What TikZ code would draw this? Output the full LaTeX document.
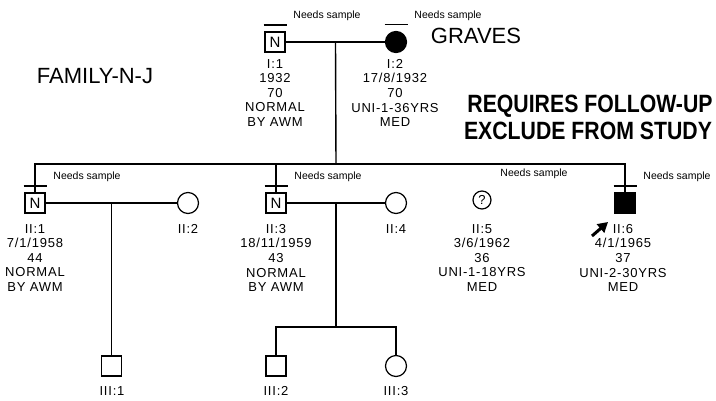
\documentclass[tikz,border=0pt]{standalone}
\usepackage{fontspec}
\setmainfont{Liberation Sans}
\newfontfamily\narrowsans{Liberation Sans}[FakeStretch=0.85]
\usetikzlibrary{arrows.meta,calc,positioning}

\begin{document}
\begin{tikzpicture}[
      x=1pt, y=-1pt, line width=1.4pt,
      male/.style={draw, rectangle, minimum size=20pt, inner sep=0pt,
                   line width=1.2pt, font=\fontsize{15}{15}\selectfont},
      female/.style={draw, circle, minimum size=21pt, inner sep=0pt, line width=1.2pt},
      affected/.style={fill=black},
      info/.style={anchor=north, align=center, inner sep=0pt,
                   font=\fontsize{13}{14.6}\selectfont\addfontfeature{LetterSpace=6}},
      sample/.style={inner sep=0pt, font=\fontsize{10.5}{10.5}\selectfont},
      bigtext/.style={inner sep=0pt, font=\fontsize{22}{22}\selectfont},
      flag/.style={inner sep=0pt, text depth=0pt, font=\narrowsans\bfseries\fontsize{25}{25}\selectfont},
      bar/.style={line width=1.2pt}
    ]
      \useasboundingbox (0,0) rectangle (716,400);

      % generation I
      \node[male] (i1) at (275,42) {N};
      \node[female, affected] (i2) at (396,42) {};
      \node[info] (i1l) at (275,58.5) {I:1\\1932\\70\\NORMAL\\BY AWM};
      \node[info] (i2l) at (395,58.5) {I:2\\17/8/1932\\70\\UNI-1-36YRS\\MED};

      % generation II
      \node[male] (ii1) at (35,203) {N};
      \node[female] (ii2) at (188,203) {};
      \node[male] (ii3) at (276,203) {N};
      \node[female] (ii4) at (396,203) {};
      \node[female, minimum size=18pt, font=\fontsize{13}{13}\selectfont] (ii5) at (482,200) {?};
      \node[male, affected] (ii6) at (625,203) {};
      \node[info] (ii1l) at (35,223.5) {II:1\\7/1/1958\\44\\NORMAL\\BY AWM};
      \node[info] (ii2l) at (188,223.5) {II:2};
      \node[info] (ii3l) at (276,223.5) {II:3\\18/11/1959\\43\\NORMAL\\BY AWM};
      \node[info] (ii4l) at (396,223.5) {II:4};
      \node[info] (ii5l) at (482,223.5) {II:5\\3/6/1962\\36\\UNI-1-18YRS\\MED};
      \node[info] (ii6l) at (623,223.5) {II:6\\4/1/1965\\37\\UNI-2-30YRS\\MED};

      % generation III
      \node[male] (iii1) at (111.5,366) {};
      \node[male] (iii2) at (276,366) {};
      \node[female] (iii3) at (396,366) {};
      \node[info] (iii1l) at (112,385.5) {III:1};
      \node[info] (iii2l) at (276,385.5) {III:2};
      \node[info] (iii3l) at (396,385.5) {III:3};

      % sample notes
      \foreach \p in {i1,i2,ii1,ii3,ii5,ii6}
        \node[sample] (\p ns) at ($(\p)+(52,-26)$) {Needs sample};
      \foreach \p in {i1,i2,ii1,ii3,ii6}
        \draw[bar] ($(\p.north)+(-11.5,-6.5)$) -- ++(23,0);

      % marriages and descent
      \draw (i1) -- (i2);
      \coordinate (m1) at ($(i1)!0.5!(i2)$);
      \coordinate (s1) at (336,164);
      \draw (m1) -- (s1);
      \draw (ii1.north) -- (ii1 |- s1) -- (ii6 |- s1) -- (ii6.north);
      \draw (ii3.north) -- (ii3 |- s1);

      \draw (ii1) -- (ii2);
      \coordinate (m2) at ($(ii1)!0.5!(ii2)$);
      \draw (m2) -- (iii1.north);

      \draw (ii3) -- (ii4);
      \coordinate (m3) at ($(ii3)!0.5!(ii4)$);
      \coordinate (s3) at (336,327);
      \draw (m3) -- (s3);
      \draw (iii2.north) -- (iii2 |- s3) -- (iii3 |- s3) -- (iii3.north);

      % proband arrow
      \coordinate (pa) at ($(ii6)+(-33,33)$);
      \coordinate (pb) at ($(ii6)+(-17,19)$);
      \draw[-{Triangle[length=10pt,width=11pt]}, line width=3pt] (pa) -- (pb);

      % titles
      \node[bigtext] (fam) at (95,76) {FAMILY-N-J};
      \node[bigtext] (grv) at (476,36) {GRAVES};
      \node[flag] (fup) at (590,104) {REQUIRES FOLLOW-UP};
      \node[flag] (exc) at (588,131) {EXCLUDE FROM STUDY};
    \end{tikzpicture}
\end{document}
